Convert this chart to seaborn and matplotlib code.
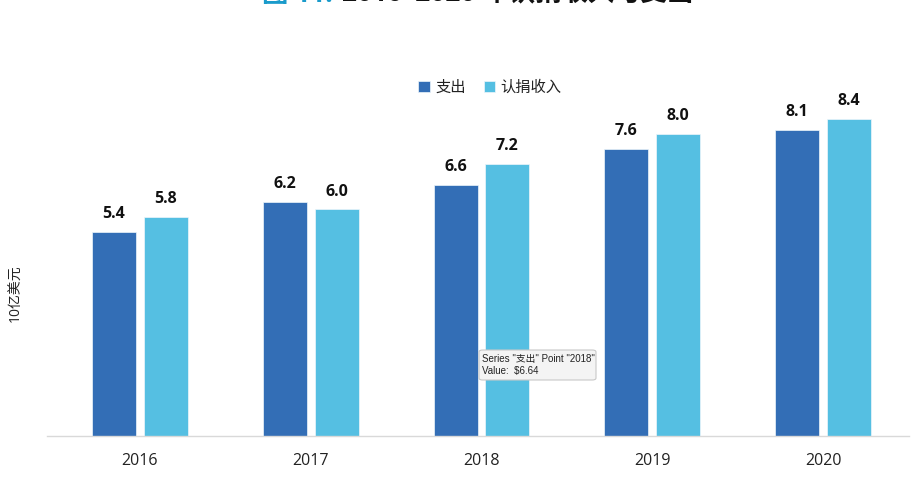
import matplotlib
matplotlib.use("Agg")
import matplotlib.pyplot as plt
import seaborn as sns
import pandas as pd
from matplotlib.patches import FancyBboxPatch

years = ["2016", "2017", "2018", "2019", "2020"]
series_names = ["支出", "认捐收入"]
spending = [5.4, 6.2, 6.64, 7.6, 8.1]
pledges = [5.8, 6.0, 7.2, 8.0, 8.4]
palette = ["#336EB6", "#55BFE2"]

df = pd.DataFrame({
    "year": years * 2,
    "series": [series_names[0]] * len(years) + [series_names[1]] * len(years),
    "value": spending + pledges,
})

sns.set_theme(style="white")
plt.rcParams["font.family"] = ["Open Sans", "Noto Sans CJK SC", "DejaVu Sans"]

fig = plt.figure(figsize=(9.24, 5.04), dpi=100)
ax = fig.add_axes([47 / 924, 1 - 436 / 504, 862 / 924, 340 / 504])

sns.barplot(data=df, x="year", y="value", hue="series", order=years,
            hue_order=series_names, palette=palette, saturation=1,
            width=0.608, gap=0.154, edgecolor="#eef6fb", linewidth=0.5,
            ax=ax, legend=True)

ax.set_xlim(-0.544, 4.503)
ax.set_ylim(0, 9)
ax.set_yticks([])
ax.set_xlabel("")
ax.set_ylabel("10亿美元", fontsize=10, color="#222222")
ax.yaxis.set_label_coords(-0.027, 0.42)
for side in ["top", "right", "left"]:
    ax.spines[side].set_visible(False)
ax.spines["bottom"].set_color("#d9d9d9")
ax.spines["bottom"].set_linewidth(1)
ax.tick_params(axis="x", length=0, pad=12, labelsize=11.5, labelcolor="#222222")

for container in ax.containers:
    ax.bar_label(container, fmt="%.1f", padding=7, fontsize=11.5,
                 fontweight="bold", color="#111111")

handles, labels = ax.get_legend_handles_labels()
ax.legend(handles, labels, loc="center", bbox_to_anchor=(490 / 924, 1 - 88 / 504),
          bbox_transform=fig.transFigure, ncol=2, frameon=False, fontsize=11,
          handlelength=0.75, handleheight=0.75, handletextpad=0.35,
          columnspacing=1.2, labelcolor="#222222")

# Title, its upper part running off the top edge
fig.text(262 / 924, 1 - 7.5 / 504, "图 11.", fontsize=19, fontweight="bold",
         color="#1A9BCB", ha="left", va="bottom")
fig.text(342 / 924, 1 - 7.5 / 504, "2016–2020 年认捐收入与支出", fontsize=19,
         fontweight="bold", color="#111111", ha="left", va="bottom")

# Hover tooltip over the 2018 spending bar
tip = FancyBboxPatch((479 / 924, 1 - 380 / 504), 117 / 924, 30 / 504,
                     boxstyle="round,pad=0,rounding_size=0.004",
                     transform=fig.transFigure, facecolor="#f4f4f4",
                     edgecolor="#c8c8c8", linewidth=0.8, zorder=10)
fig.add_artist(tip)
fig.text(482 / 924, 1 - 365 / 504, 'Series "支出" Point "2018"\nValue:  $6.64',
         fontsize=7, color="#222222", ha="left", va="center",
         family=["Liberation Sans", "Noto Sans CJK SC"],
         linespacing=1.3, zorder=11)

fig.savefig("out.png", dpi=100)
